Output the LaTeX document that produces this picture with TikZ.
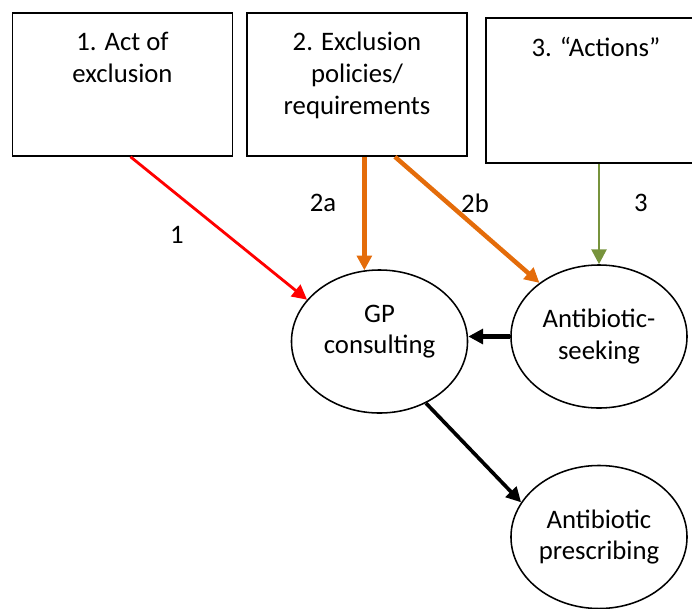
\documentclass[tikz,border=0pt]{standalone}
\usepackage{fontspec}
\setmainfont{Carlito}
\usetikzlibrary{arrows.meta,shapes.geometric}
\definecolor{exclred}{HTML}{FF0000}
\definecolor{exclorange}{HTML}{E46C0A}
\definecolor{actgreen}{HTML}{77933C}

\begin{document}
\begin{tikzpicture}[x=0.025cm,y=-0.025cm,
box/.style={draw,line width=1.1pt,minimum width=5.5cm,minimum height=3.575cm,inner sep=0pt},
boxtext/.style={anchor=north,align=center,inner sep=0pt,yshift=-14pt,font=\fontsize{19}{22.5}\selectfont},
oval/.style={draw,ellipse,line width=1.1pt,minimum width=4.4cm,minimum height=3.575cm,inner sep=0pt},
ovaltext/.style={align=center,inner sep=0pt,font=\fontsize{19}{22.5}\selectfont},
num/.style={inner sep=0pt,font=\fontsize{19}{22.5}\selectfont},
link/.style={-{Triangle[length=10.5pt,width=10.5pt]}}
]

\useasboundingbox (0,0) rectangle (692,608);

\node[box,label={[boxtext]north:{1. Act of\\exclusion}}] (b1) at (122.5,84.5) {};
\node[box,label={[boxtext]north:{2. Exclusion\\policies/\\requirements}}] (b2) at (357,84.5) {};
\node[box,line width=1.5pt,minimum height=3.625cm,label={[boxtext]north:{3. “Actions”}}] (b3) at (596,90.5) {};

\node[oval,label={[ovaltext,yshift=7pt]center:{GP\\consulting}}] (gp) at (379.5,341.5) {};
\node[oval,label={[ovaltext]center:{Antibiotic-\\seeking}}] (as) at (599,336.5) {};
\node[oval,label={[ovaltext]center:{Antibiotic\\prescribing}}] (ap) at (599,537) {};

\draw[link,exclred,line width=2pt] ([xshift=5.7pt]b1.south) -- (gp.150);
\draw[link,exclorange,line width=3.2pt] (b2.south -| gp.102) -- (gp.102);
\draw[link,exclorange,line width=3.2pt] ([xshift=27pt]b2.south) -- (as.138);
\draw[link,actgreen,line width=2pt] (b3.south -| as.north) -- (as.north);
\draw[link,line width=3pt] (as.west) -- (as.west -| gp.east);
\draw[link,line width=2.6pt] (gp.-53) -- (ap.156);

\node[num] (n1) at (177,235) {1};
\node[num] (n2a) at (323,203) {2a};
\node[num] (n2b) at (475,203) {2b};
\node[num] (n3) at (641,203) {3};
\end{tikzpicture}
\end{document}
